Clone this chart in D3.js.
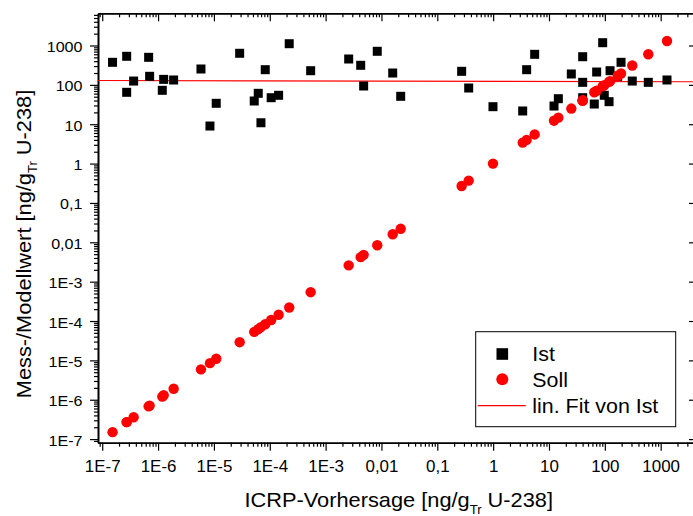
<!DOCTYPE html>
<html><head><meta charset="utf-8">
<script src="https://cdn.jsdelivr.net/npm/d3@7"></script>
<style>
body{margin:0;background:#fff}
svg{display:block}
text{font-family:"Liberation Sans",Arial,sans-serif;fill:#000}
</style>
</head><body>
<svg id="c" width="693" height="516"></svg>
<script>
// ---- data ----
const icrp = [1.53e-7, 2.74e-7, 2.74e-7, 3.65e-7, 6.78e-7, 7.06e-7, 1.19e-6, 1.26e-6, 1.90e-6, 5.86e-6,
  8.49e-6, 1.10e-5, 2.89e-5, 5.27e-5, 6.22e-5, 6.95e-5, 8.30e-5, 1.06e-4, 1.44e-4, 2.23e-4,
  5.40e-4, 2.59e-3, 4.25e-3, 4.80e-3, 8.41e-3, 0.0159, 0.0221, 0.273, 0.365, 0.993,
  3.38, 3.98, 5.54, 12.3, 14.7, 25.1, 40.1, 40.1, 40.1, 64.7,
  71.4, 91.5, 97.7, 119, 124, 170, 195, 310, 600, 1297];
const ist = [374, 532, 64.7, 125, 501, 165, 72.7, 138, 133, 253,
  9.0, 34, 634, 38.9, 61, 10.9, 243, 47.2, 54.3, 1111,
  229, 454, 314, 93.6, 713, 200, 51.2, 221, 83.2, 27.9,
  21.7, 243, 597, 29, 44.5, 189, 519, 116, 47.2, 32.6,
  212, 1178, 54.3, 37.4, 229, 165, 374, 125, 116, 133];
const soll = [1.5e-7, 2.7e-7, 2.7e-7, 3.6e-7, 6.8e-7, 7.1e-7, 1.2e-6, 1.3e-6, 1.9e-6, 5.9e-6,
  8.5e-6, 1.1e-5, 2.9e-5, 5.3e-5, 6.2e-5, 7.0e-5, 8.3e-5, 1.06e-4, 1.44e-4, 2.2e-4,
  5.4e-4, 2.6e-3, 4.2e-3, 4.8e-3, 8.4e-3, 0.016, 0.022, 0.27, 0.37, 1.0,
  3.4, 4.0, 5.5, 12.3, 14.7, 25, 40, 40, 40, 65,
  71, 92, 98, 119, 124, 170, 195, 310, 600, 1300];
const fitX = [8.4e-8, 4470];
const fitY = [129, 120];
const xTickValues = [1e-7, 1e-6, 1e-5, 1e-4, 1e-3, 1e-2, 1e-1, 1, 10, 100, 1000];
const xTickLabels = ["1E-7", "1E-6", "1E-5", "1E-4", "1E-3", "0,01", "0,1", "1", "10", "100", "1000"];
const yTickValues = [1e-7, 1e-6, 1e-5, 1e-4, 1e-3, 1e-2, 1e-1, 1, 10, 100, 1000];
const yTickLabels = ["1E-7", "1E-6", "1E-5", "1E-4", "1E-3", "0,01", "0,1", "1", "10", "100", "1000"];
const legendLabels = ["Ist", "Soll", "lin. Fit von Ist"];

// ---- layout ----
const L = 98, R = 697, T = 13.3, B = 442.7;
const svg = d3.select("#c");
const x = d3.scaleLog().domain([8.4e-8, 4470]).range([L, R]);
const y = d3.scaleLog().domain([8.1e-8, 6580]).range([B, T]);

function minors(dom) {
  const out = [];
  for (let e = -9; e <= 4; e++) for (let k = 2; k <= 9; k++) {
    const v = k * Math.pow(10, e);
    if (v >= dom[0] && v <= dom[1]) out.push(v);
  }
  return out;
}
const xMin = minors(x.domain()), yMin = minors(y.domain());

function styleAxis(g) {
  g.select(".domain").attr("stroke", "#000").attr("stroke-width", 1.6);
  g.selectAll(".tick line").attr("stroke", "#000").attr("stroke-width", 1.2);
}

// minor ticks
svg.append("g").attr("transform", `translate(0,${B})`)
  .call(d3.axisBottom(x).tickValues(xMin).tickFormat("").tickSizeInner(4).tickSizeOuter(0)).call(styleAxis);
svg.append("g").attr("transform", `translate(0,${T})`)
  .call(d3.axisTop(x).tickValues(xMin).tickFormat("").tickSizeInner(-4).tickSizeOuter(0)).call(styleAxis);
svg.append("g").attr("transform", `translate(${L},0)`)
  .call(d3.axisLeft(y).tickValues(yMin).tickFormat("").tickSizeInner(4).tickSizeOuter(0)).call(styleAxis);
svg.append("g").attr("transform", `translate(${R},0)`)
  .call(d3.axisRight(y).tickValues(yMin).tickFormat("").tickSizeInner(-4).tickSizeOuter(0)).call(styleAxis);

// major ticks
const gx = svg.append("g").attr("transform", `translate(0,${B})`)
  .call(d3.axisBottom(x).tickValues(xTickValues).tickFormat((d, i) => xTickLabels[i]).tickSizeInner(8).tickSizeOuter(0))
  .call(styleAxis);
gx.selectAll(".tick text").attr("y", null).attr("dy", null)
  .attr("font-size", 16).attr("fill", "#000")
  .attr("transform", "translate(0,29.5) scale(1.06,1)");
svg.append("g").attr("transform", `translate(0,${T})`)
  .call(d3.axisTop(x).tickValues(xTickValues).tickFormat("").tickSizeInner(-8).tickSizeOuter(0)).call(styleAxis);
const gy = svg.append("g").attr("transform", `translate(${L},0)`)
  .call(d3.axisLeft(y).tickValues(yTickValues).tickFormat((d, i) => yTickLabels[i]).tickSizeInner(8).tickSizeOuter(0))
  .call(styleAxis);
gy.selectAll(".tick text").attr("x", null).attr("dy", null)
  .attr("font-size", 14).attr("fill", "#000").attr("text-anchor", "end")
  .attr("transform", "translate(-15.5,6) scale(1.15,1)");
svg.append("g").attr("transform", `translate(${R},0)`)
  .call(d3.axisRight(y).tickValues(yTickValues).tickFormat("").tickSizeInner(-8).tickSizeOuter(0)).call(styleAxis);

// fit line (behind markers)
const fitPts = fitX.map((v, i) => [v, fitY[i]]);
svg.append("path").datum(fitPts)
  .attr("d", d3.line().x(d => x(d[0])).y(d => y(d[1])))
  .attr("fill", "none").attr("stroke", "#ff0000").attr("stroke-width", 1.2);

// Ist squares
const S = 9;
svg.append("g").selectAll("rect").data(icrp.map((v, i) => [v, ist[i]])).join("rect")
  .attr("x", d => x(d[0]) - S / 2).attr("y", d => y(d[1]) - S / 2)
  .attr("width", S).attr("height", S).attr("fill", "#000");

// Soll circles
svg.append("g").selectAll("circle").data(icrp.map((v, i) => [v, soll[i]])).join("circle")
  .attr("cx", d => x(d[0])).attr("cy", d => y(d[1])).attr("r", 5.2).attr("fill", "#ff0000");

// legend
const lg = svg.append("g");
lg.append("rect").attr("x", 475.7).attr("y", 331.7).attr("width", 200).attr("height", 95)
  .attr("fill", "#fff").attr("stroke", "#000").attr("stroke-width", 1);
lg.append("rect").attr("x", 502.3 - 5.8).attr("y", 354 - 5.8).attr("width", 11.6).attr("height", 11.6).attr("fill", "#000");
lg.append("circle").attr("cx", 502.3).attr("cy", 379.3).attr("r", 6).attr("fill", "#ff0000");
lg.append("line").attr("x1", 477.7).attr("x2", 525.7).attr("y1", 405.7).attr("y2", 405.7)
  .attr("stroke", "#ff0000").attr("stroke-width", 1.2);
const lgY = [361, 386.7, 413.3];
legendLabels.forEach((t, i) => {
  lg.append("text").attr("transform", `translate(532.3,${lgY[i]}) scale(1.07,1)`)
    .attr("font-size", 20).text(t);
});

// axis titles
const xt = svg.append("text").attr("transform", "translate(398.7,506.7) scale(1.09,1)")
  .attr("text-anchor", "middle").attr("font-size", 20);
xt.append("tspan").text("ICRP-Vorhersage [ng/g");
xt.append("tspan").attr("font-size", 12).attr("dy", 7).text("Tr");
xt.append("tspan").attr("dy", -7).text(" U-238]");

const yt = svg.append("text").attr("transform", "translate(30.7,244) rotate(-90) scale(1.09,1)")
  .attr("text-anchor", "middle").attr("font-size", 20);
yt.append("tspan").text("Mess-/Modellwert [ng/g");
yt.append("tspan").attr("font-size", 12).attr("dy", 6).text("Tr");
yt.append("tspan").attr("dy", -6).text(" U-238]");
</script>
</body></html>
